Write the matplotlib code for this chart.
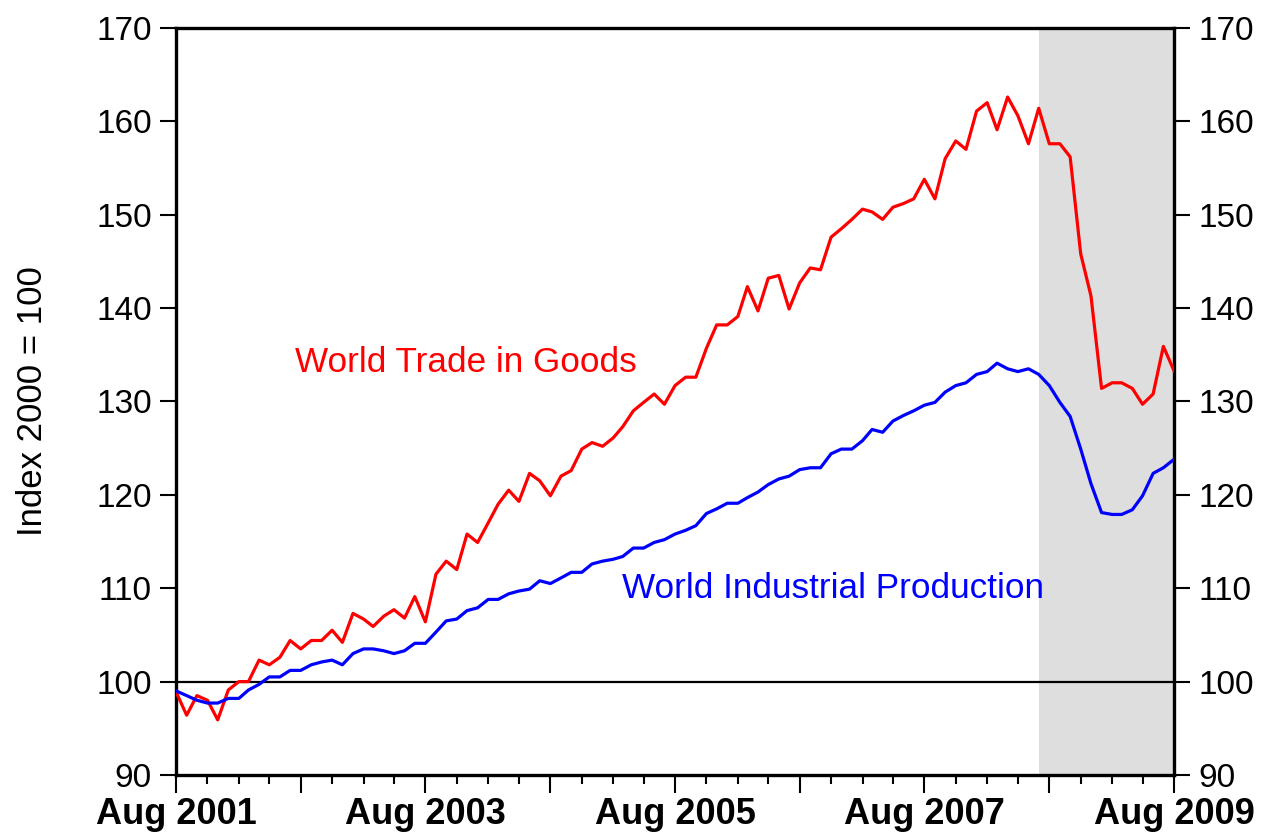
import pandas as pd
import matplotlib
matplotlib.use("Agg")
import matplotlib.pyplot as plt
import matplotlib.dates as mdates
from matplotlib.ticker import FuncFormatter, MultipleLocator

plt.rcParams['font.family'] = ['Liberation Sans', 'DejaVu Sans']

# monthly, Aug 2001 .. Aug 2009
dates = pd.date_range('2001-08-01', periods=97, freq='MS')

trade = [98.9, 96.4, 98.5, 98.0, 95.9, 99.1, 100.0, 100.0, 102.3, 101.8,
         102.6, 104.4, 103.5, 104.4, 104.4, 105.5, 104.2, 107.3, 106.7, 105.9,
         107.0, 107.7, 106.8, 109.1, 106.4, 111.5, 112.9, 112.0, 115.8, 114.9,
         117.0, 119.0, 120.5, 119.3, 122.3, 121.5, 119.9, 122.0, 122.6, 124.9,
         125.6, 125.2, 126.1, 127.3, 129.0, 129.9, 130.8, 129.7, 131.7, 132.6,
         132.6, 135.7, 138.2, 138.2, 139.1, 142.3, 139.7, 143.2, 143.5, 139.9,
         142.7, 144.3, 144.1, 147.6, 148.5, 149.5, 150.6, 150.3, 149.5, 150.8,
         151.2, 151.7, 153.8, 151.7, 156.0, 157.9, 157.0, 161.1, 162.0, 159.1,
         162.6, 160.6, 157.6, 161.4, 157.6, 157.6, 156.2, 145.8, 141.3, 131.4,
         132.0, 132.0, 131.4, 129.7, 130.8, 135.9, 133.3]

indprod = [99.0, 98.5, 98.0, 97.7, 97.7, 98.2, 98.2, 99.1, 99.7, 100.5,
           100.5, 101.2, 101.2, 101.8, 102.1, 102.3, 101.8, 103.0, 103.5, 103.5,
           103.3, 103.0, 103.3, 104.1, 104.1, 105.3, 106.5, 106.7, 107.6, 107.9,
           108.8, 108.8, 109.4, 109.7, 109.9, 110.8, 110.5, 111.1, 111.7, 111.7,
           112.6, 112.9, 113.1, 113.4, 114.3, 114.3, 114.9, 115.2, 115.8, 116.2,
           116.7, 118.0, 118.5, 119.1, 119.1, 119.7, 120.3, 121.1, 121.7, 122.0,
           122.7, 122.9, 122.9, 124.4, 124.9, 124.9, 125.8, 127.0, 126.7, 127.9,
           128.5, 129.0, 129.6, 129.9, 131.0, 131.7, 132.0, 132.9, 133.2, 134.1,
           133.5, 133.2, 133.5, 132.9, 131.7, 129.9, 128.4, 124.9, 121.2, 118.1,
           117.9, 117.9, 118.4, 119.9, 122.3, 122.9, 123.8]

recession_start = pd.Timestamp('2008-07-01')

fig = plt.figure(figsize=(12.63, 8.35), dpi=100)
ax = fig.add_axes([0.1394, 0.0719, 0.7901, 0.8946])

ax.axvspan(recession_start, dates[-1], color='#dedede', lw=0, zorder=0)
ax.axhline(100, color='black', lw=1.6, zorder=1)
ax.plot(dates, trade, color='#ff0000', lw=2.3, zorder=3)
ax.plot(dates, indprod, color='#0000ff', lw=2.3, zorder=3)

ax.set_xlim(dates[0], dates[-1])
ax.set_ylim(90, 170)
ax.yaxis.set_major_locator(MultipleLocator(10))

ax.text(0.119, 0.5515, 'World Trade in Goods', color='#ff0000', fontsize=25.3,
        transform=ax.transAxes, va='center', ha='left')
ax.text(0.447, 0.249, 'World Industrial Production', color='#0000ff', fontsize=25.3,
        transform=ax.transAxes, va='center', ha='left')

ax.set_ylabel('Index 2000 = 100', fontsize=25, labelpad=34)

# x ticks: yearly major (Aug), quarterly minor, labels every two years
def xlab(v, pos):
    d = mdates.num2date(v)
    return d.strftime('Aug %Y') if (d.year - 2001) % 2 == 0 else ''

ax.xaxis.set_major_locator(mdates.MonthLocator(bymonth=8))
ax.xaxis.set_minor_locator(mdates.MonthLocator(bymonth=[2, 5, 11]))
ax.xaxis.set_major_formatter(FuncFormatter(xlab))
ax.tick_params(axis='x', which='major', direction='out', length=13, width=1.5, pad=3)
ax.tick_params(axis='x', which='minor', direction='out', length=6.5, width=1.5)
ax.tick_params(axis='y', which='major', direction='out', length=11.5, width=1.5,
               labelsize=24, pad=6, right=True, labelright=True)

for spine in ax.spines.values():
    spine.set_linewidth(2.4)

fig.canvas.draw()
for lab in ax.get_xticklabels():
    lab.set_fontfamily(['Liberation Sans Narrow', 'Liberation Sans'])
    lab.set_fontweight('bold')
    lab.set_fontsize(26)

fig.savefig('out.png', dpi=100)
